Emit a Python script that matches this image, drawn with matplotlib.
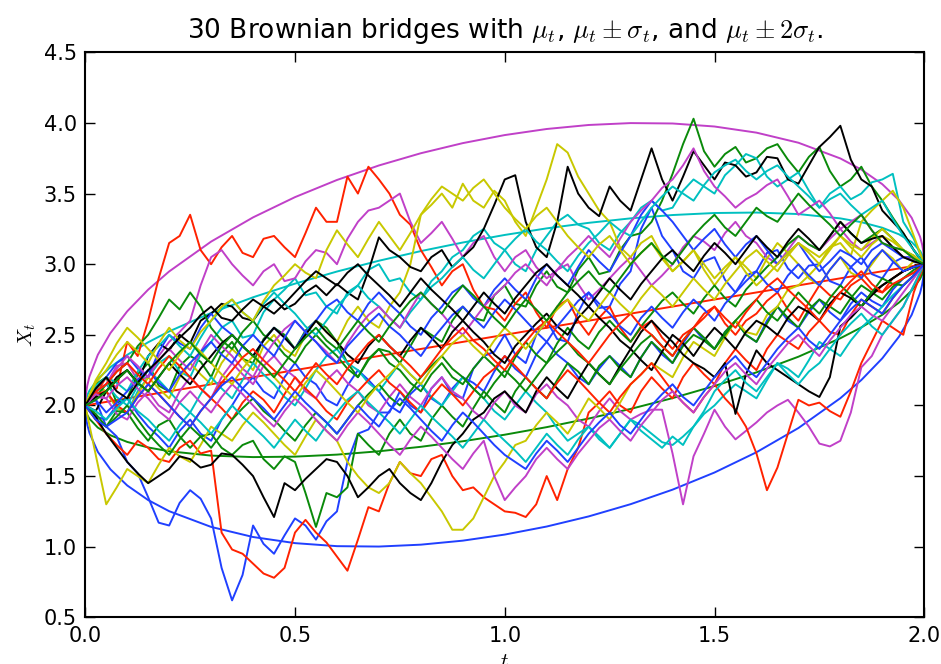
import numpy as np
import matplotlib
matplotlib.use("Agg")
import matplotlib.pyplot as plt

plt.rcParams['mathtext.fontset'] = 'cm'
plt.rcParams['font.family'] = ['DejaVu Sans']

# 30 Brownian bridge paths from X_0 = 2 to X_2 = 3, sampled every 0.025 in t
paths = [
    [2.0, 2.04, 1.85, 1.78, 1.6, 1.52, 1.35, 1.17, 1.15, 1.31, 1.4, 1.34, 1.2, 0.85, 0.62, 0.8, 1.15, 1.02, 0.95, 1.08,
     1.2, 1.15, 1.05, 1.18, 1.25, 1.6, 1.8, 1.83, 1.95, 1.95, 2.1, 2.0, 1.95, 2.12, 2.2, 2.08, 2.05, 2.26, 2.35, 2.38,
     2.5, 2.36, 2.3, 2.5, 2.6, 2.47, 2.45, 2.66, 2.8, 2.69, 2.7, 2.86, 2.95, 3.25, 3.4, 3.2, 3.1, 2.95, 2.9, 3.02,
     3.05, 2.89, 2.8, 2.92, 2.95, 3.08, 3.1, 2.97, 2.9, 2.99, 3.0, 2.88, 2.85, 2.98, 3.05, 2.93, 2.9, 3.01, 3.05, 3.05, 3.0],
    [2.0, 2.15, 2.2, 2.02, 2.05, 2.22, 2.3, 2.14, 2.1, 2.28, 2.35, 2.31, 2.2, 2.37, 2.45, 2.33, 2.3, 2.47, 2.55, 2.5,
     2.4, 2.53, 2.6, 2.55, 2.45, 2.3, 2.2, 2.33, 2.4, 2.38, 2.3, 2.42, 2.55, 2.5, 2.45, 2.6, 2.7, 2.62, 2.6, 2.78,
     2.85, 2.72, 2.7, 2.85, 2.95, 2.84, 2.8, 2.96, 3.05, 2.93, 2.95, 3.1, 3.2, 3.22, 3.3, 3.45, 3.64, 3.85, 4.03, 3.8,
     3.69, 3.78, 3.83, 3.72, 3.75, 3.82, 3.85, 3.74, 3.65, 3.76, 3.83, 3.66, 3.55, 3.6, 3.69, 3.55, 3.45, 3.33, 3.22, 3.1, 3.0],
    [2.0, 2.08, 2.2, 2.12, 2.45, 2.35, 2.6, 2.9, 3.15, 3.2, 3.35, 3.1, 3.0, 3.12, 3.2, 3.08, 3.05, 3.18, 3.2, 3.12,
     3.05, 3.22, 3.4, 3.3, 3.3, 3.62, 3.5, 3.69, 3.6, 3.5, 3.35, 3.28, 3.1, 2.98, 2.85, 2.95, 3.0, 2.82, 2.7, 2.68,
     2.6, 2.72, 2.8, 2.66, 2.55, 2.7, 2.75, 2.6, 2.5, 2.62, 2.7, 2.55, 2.45, 2.55, 2.6, 2.48, 2.4, 2.5, 2.55, 2.65,
     2.7, 2.58, 2.5, 2.6, 2.65, 2.74, 2.8, 2.68, 2.6, 2.73, 2.85, 2.78, 2.75, 2.85, 2.9, 2.82, 2.8, 2.9, 2.95, 2.98, 3.0],
    [2.0, 2.12, 2.1, 1.98, 1.95, 2.1, 2.2, 2.3, 2.35, 2.24, 2.2, 2.36, 2.45, 2.55, 2.6, 2.48, 2.5, 2.66, 2.75, 2.82,
     2.9, 2.78, 2.8, 2.7, 2.65, 2.8, 2.85, 2.96, 3.0, 2.88, 2.9, 2.8, 2.75, 2.88, 2.95, 3.05, 3.1, 3.2, 3.25, 3.15,
     3.1, 3.0, 2.95, 3.1, 3.2, 3.3, 3.35, 3.28, 3.25, 3.15, 3.1, 3.22, 3.3, 3.4, 3.45, 3.38, 3.4, 3.52, 3.6, 3.55,
     3.5, 3.63, 3.7, 3.78, 3.75, 3.62, 3.55, 3.6, 3.65, 3.52, 3.4, 3.5, 3.55, 3.46, 3.5, 3.58, 3.6, 3.64, 3.3, 3.18, 3.0],
    [2.0, 2.1, 2.15, 2.28, 2.3, 2.18, 2.2, 2.35, 2.45, 2.52, 2.6, 2.85, 3.05, 3.1, 3.0, 2.92, 2.85, 2.95, 3.0, 2.88,
     2.9, 3.02, 3.1, 3.08, 3.0, 3.18, 3.3, 3.38, 3.4, 3.45, 3.5, 3.3, 3.15, 3.22, 3.3, 3.18, 3.05, 3.15, 3.2, 3.05,
     2.95, 3.05, 3.1, 2.98, 2.9, 2.96, 3.0, 2.86, 2.75, 2.82, 2.9, 2.98, 3.05, 2.95, 2.85, 2.92, 3.0, 3.12, 3.2, 3.16,
     3.1, 3.22, 3.3, 3.2, 3.15, 3.05, 3.0, 3.1, 3.2, 3.14, 3.1, 3.18, 3.25, 3.16, 3.1, 3.15, 3.2, 3.12, 3.05, 3.03, 3.0],
    [2.0, 2.14, 2.1, 1.98, 1.95, 2.08, 2.2, 2.12, 2.05, 2.2, 2.3, 2.22, 2.15, 2.3, 2.4, 2.33, 2.25, 2.42, 2.5, 2.4,
     2.35, 2.5, 2.6, 2.52, 2.45, 2.6, 2.7, 2.6, 2.55, 2.7, 2.8, 3.0, 3.35, 3.42, 3.5, 3.4, 3.57, 3.45, 3.4, 3.52,
     3.45, 3.3, 3.2, 3.4, 3.6, 3.85, 3.79, 3.62, 3.5, 3.38, 3.3, 3.12, 3.05, 3.15, 3.2, 3.06, 2.95, 3.02, 3.1, 2.96,
     2.85, 2.95, 3.05, 2.98, 2.9, 3.04, 3.15, 3.08, 3.0, 2.9, 2.85, 2.96, 3.05, 2.94, 2.9, 3.0, 3.1, 3.04, 2.95, 3.02, 3.0],
    [2.0, 1.96, 2.1, 2.2, 2.25, 2.16, 2.35, 2.44, 2.39, 2.5, 2.44, 2.6, 2.65, 2.72, 2.7, 2.62, 2.6, 2.7, 2.75, 2.68,
     2.72, 2.8, 2.85, 2.78, 2.86, 2.8, 2.75, 2.95, 3.19, 3.1, 3.05, 2.98, 2.95, 3.05, 3.1, 2.98, 3.05, 3.12, 3.25, 3.42,
     3.6, 3.63, 3.3, 3.12, 3.05, 3.3, 3.69, 3.5, 3.4, 3.34, 3.55, 3.45, 3.38, 3.6, 3.82, 3.6, 3.45, 3.62, 3.8, 3.7,
     3.6, 3.72, 3.7, 3.62, 3.65, 3.76, 3.75, 3.6, 3.57, 3.7, 3.83, 3.9, 3.98, 3.74, 3.6, 3.55, 3.38, 3.3, 3.22, 3.1, 3.0],
    [2.0, 1.92, 1.9, 2.0, 2.05, 1.94, 1.85, 1.78, 1.7, 1.82, 1.9, 1.8, 1.75, 1.9, 2.0, 2.12, 2.2, 2.1, 2.05, 2.2,
     2.3, 2.2, 2.15, 2.04, 2.0, 2.14, 2.25, 2.18, 2.1, 2.0, 1.95, 2.08, 2.15, 2.05, 2.0, 2.12, 2.2, 2.16, 2.1, 2.24,
     2.35, 2.26, 2.2, 2.36, 2.45, 2.36, 2.3, 2.2, 2.15, 2.26, 2.35, 2.28, 2.2, 2.34, 2.45, 2.36, 2.3, 2.44, 2.55, 2.46,
     2.4, 2.52, 2.6, 2.5, 2.45, 2.6, 2.7, 2.6, 2.55, 2.66, 2.75, 2.66, 2.6, 2.72, 2.8, 2.74, 2.7, 2.82, 2.9, 2.94, 3.0],
    [2.0, 1.9, 1.85, 1.96, 1.95, 1.84, 1.75, 1.86, 1.9, 1.78, 1.7, 1.78, 1.8, 1.7, 1.65, 1.72, 1.75, 1.62, 1.55, 1.64,
     1.6, 1.38, 1.14, 1.38, 1.35, 1.42, 1.8, 1.72, 1.65, 1.8, 1.9, 1.8, 1.75, 1.9, 2.0, 1.92, 1.85, 1.98, 2.1, 2.02,
     1.95, 2.1, 2.2, 2.12, 2.05, 2.18, 2.3, 2.24, 2.15, 2.28, 2.35, 2.26, 2.2, 2.34, 2.45, 2.38, 2.3, 2.42, 2.5, 2.46,
     2.4, 2.52, 2.6, 2.5, 2.45, 2.58, 2.7, 2.62, 2.55, 2.68, 2.75, 2.7, 2.65, 2.76, 2.85, 2.8, 2.75, 2.84, 2.9, 2.96, 3.0],
    [2.0, 1.9, 1.8, 1.72, 1.65, 1.75, 1.7, 1.62, 1.6, 1.7, 1.75, 1.66, 1.68, 1.1, 0.98, 0.95, 0.88, 0.81, 0.78, 0.85,
     1.1, 1.19, 1.1, 1.03, 0.93, 0.83, 1.05, 1.28, 1.25, 1.45, 1.6, 1.52, 1.5, 1.62, 1.65, 1.5, 1.4, 1.42, 1.35, 1.3,
     1.25, 1.24, 1.21, 1.3, 1.5, 1.33, 1.55, 1.7, 1.95, 2.02, 2.1, 2.0, 1.95, 2.1, 2.2, 2.12, 2.05, 2.2, 2.3, 2.22,
     2.15, 2.3, 2.4, 2.32, 2.25, 2.4, 2.5, 2.45, 2.4, 2.52, 2.6, 2.52, 2.5, 2.64, 2.75, 2.7, 2.65, 2.76, 2.85, 2.92, 3.0],
    [2.0, 2.1, 2.15, 2.06, 2.0, 2.14, 2.25, 2.18, 2.1, 2.02, 1.95, 2.08, 2.2, 2.12, 2.05, 2.18, 2.3, 2.22, 2.15, 2.06,
     2.0, 2.12, 2.25, 2.35, 2.4, 2.3, 2.25, 2.16, 2.1, 2.2, 2.3, 2.22, 2.15, 2.06, 2.0, 2.1, 2.2, 2.12, 2.05, 1.96,
     1.9, 2.0, 2.1, 2.02, 1.95, 1.84, 1.75, 1.8, 1.85, 1.76, 1.7, 1.8, 1.9, 1.86, 1.8, 1.74, 1.72, 1.78, 1.85, 1.94,
     2.0, 2.08, 2.15, 2.1, 2.05, 2.18, 2.3, 2.26, 2.2, 2.32, 2.45, 2.4, 2.35, 2.46, 2.55, 2.62, 2.7, 2.78, 2.85, 2.92, 3.0],
    [2.0, 2.06, 2.05, 1.94, 1.9, 2.02, 2.1, 2.0, 1.95, 2.1, 2.2, 2.12, 2.05, 2.2, 2.3, 2.22, 2.15, 2.28, 2.35, 2.26,
     2.2, 2.1, 2.05, 2.18, 2.25, 2.16, 2.1, 2.0, 1.95, 2.06, 2.15, 2.06, 2.0, 2.12, 2.2, 2.1, 2.05, 1.96, 1.9, 2.02,
     2.1, 2.0, 1.95, 2.08, 2.15, 2.06, 2.0, 1.9, 1.85, 1.96, 2.05, 1.96, 1.9, 1.94, 1.97, 1.97, 1.66, 1.3, 1.64, 1.8,
     1.97, 1.85, 1.76, 1.82, 1.88, 1.95, 2.0, 2.04, 1.95, 1.85, 1.73, 1.71, 1.75, 1.95, 2.27, 2.35, 2.5, 2.6, 2.7, 2.85, 3.0],
    [2.0, 1.65, 1.3, 1.42, 1.55, 1.5, 1.45, 1.58, 1.7, 1.64, 1.6, 1.72, 1.85, 1.8, 1.75, 1.86, 1.95, 1.88, 1.8, 1.72,
     1.65, 1.78, 1.9, 1.82, 1.75, 1.6, 1.5, 1.42, 1.38, 1.45, 1.6, 1.52, 1.45, 1.35, 1.25, 1.12, 1.12, 1.2, 1.35, 1.5,
     1.6, 1.72, 1.75, 1.86, 1.95, 1.88, 1.8, 1.92, 2.05, 1.98, 1.9, 2.02, 2.15, 2.22, 2.3, 2.25, 2.2, 2.34, 2.45, 2.4,
     2.35, 2.48, 2.6, 2.52, 2.5, 2.64, 2.7, 2.82, 2.85, 2.92, 3.0, 3.12, 3.15, 3.06, 3.3, 3.38, 3.45, 3.52, 3.4, 3.2, 3.0],
    [2.0, 1.92, 1.8, 1.7, 1.6, 1.52, 1.45, 1.5, 1.55, 1.64, 1.62, 1.56, 1.58, 1.66, 1.65, 1.58, 1.5, 1.35, 1.21, 1.45,
     1.4, 1.48, 1.55, 1.62, 1.6, 1.5, 1.35, 1.42, 1.5, 1.55, 1.45, 1.38, 1.33, 1.45, 1.6, 1.72, 1.8, 1.9, 1.95, 2.05,
     2.1, 2.02, 1.95, 2.1, 2.2, 2.12, 2.05, 2.18, 2.3, 2.22, 2.15, 2.28, 2.4, 2.32, 2.25, 2.38, 2.5, 2.44, 2.35, 2.46,
     2.55, 2.48, 2.4, 2.52, 2.6, 2.56, 2.5, 2.62, 2.7, 2.66, 2.6, 2.72, 2.8, 2.76, 2.7, 2.78, 2.85, 2.9, 2.95, 2.98, 3.0],
    [2.0, 2.12, 2.2, 2.3, 2.35, 2.26, 2.2, 2.38, 2.5, 2.44, 2.4, 2.55, 2.65, 2.56, 2.5, 2.42, 2.35, 2.46, 2.55, 2.48,
     2.4, 2.52, 2.6, 2.7, 2.75, 2.66, 2.6, 2.72, 2.8, 2.72, 2.65, 2.56, 2.5, 2.62, 2.7, 2.8, 2.85, 2.76, 2.7, 2.82,
     2.9, 2.82, 2.75, 2.9, 3.0, 2.92, 2.85, 2.98, 3.1, 3.02, 2.95, 3.08, 3.2, 3.35, 3.45, 3.38, 3.3, 3.2, 3.1, 3.18,
     3.25, 3.14, 3.05, 3.14, 3.2, 3.1, 3.0, 3.08, 3.15, 3.04, 2.95, 3.02, 3.1, 3.06, 3.0, 3.1, 3.15, 3.1, 3.05, 3.02, 3.0],
    [2.0, 2.06, 2.15, 2.24, 2.3, 2.42, 2.5, 2.62, 2.75, 2.68, 2.8, 2.7, 2.55, 2.46, 2.4, 2.52, 2.6, 2.5, 2.45, 2.36,
     2.3, 2.42, 2.5, 2.42, 2.35, 2.26, 2.2, 2.32, 2.4, 2.3, 2.25, 2.16, 2.1, 2.22, 2.3, 2.2, 2.15, 2.26, 2.35, 2.28,
     2.2, 2.34, 2.45, 2.36, 2.3, 2.44, 2.55, 2.46, 2.4, 2.52, 2.6, 2.52, 2.45, 2.56, 2.65, 2.74, 2.8, 2.72, 2.65, 2.76,
     2.85, 2.76, 2.7, 2.82, 2.9, 2.98, 3.05, 3.14, 3.2, 3.14, 3.1, 3.2, 3.3, 3.22, 3.15, 3.2, 3.25, 3.18, 3.1, 3.06, 3.0],
    [2.0, 2.08, 2.1, 2.0, 1.95, 2.06, 2.15, 2.08, 2.0, 1.92, 1.85, 1.96, 2.05, 1.98, 1.9, 2.02, 2.1, 2.04, 1.95, 2.08,
     2.2, 2.12, 2.05, 1.96, 1.9, 2.02, 2.1, 2.18, 2.25, 2.16, 2.1, 2.02, 1.95, 2.06, 2.15, 2.08, 2.0, 2.1, 2.2, 2.26,
     2.35, 2.28, 2.2, 2.12, 2.05, 2.16, 2.25, 2.18, 2.1, 2.02, 1.95, 2.06, 2.15, 2.22, 2.3, 2.2, 2.1, 2.02, 1.95, 2.06,
     2.15, 2.05, 1.97, 1.85, 1.66, 1.4, 1.56, 1.8, 2.04, 2.0, 2.02, 1.96, 1.92, 2.1, 2.3, 2.45, 2.6, 2.55, 2.5, 2.8, 3.0],
    [2.0, 2.14, 2.2, 2.16, 2.1, 2.24, 2.35, 2.42, 2.5, 2.42, 2.35, 2.48, 2.6, 2.68, 2.75, 2.66, 2.6, 2.72, 2.8, 2.72,
     2.65, 2.56, 2.5, 2.6, 2.7, 2.78, 2.85, 2.76, 2.7, 2.62, 2.55, 2.66, 2.75, 2.84, 2.9, 2.98, 3.05, 2.96, 2.9, 3.0,
     3.1, 3.18, 3.25, 3.16, 3.1, 3.02, 2.95, 3.06, 3.15, 3.22, 3.3, 3.24, 3.2, 3.3, 3.4, 3.48, 3.55, 3.5, 3.45, 3.56,
     3.65, 3.7, 3.74, 3.66, 3.6, 3.66, 3.7, 3.62, 3.55, 3.48, 3.4, 3.46, 3.5, 3.42, 3.35, 3.4, 3.45, 3.32, 3.2, 3.1, 3.0],
    [2.0, 2.1, 2.15, 2.26, 2.35, 2.28, 2.2, 2.32, 2.4, 2.32, 2.25, 2.38, 2.5, 2.42, 2.35, 2.26, 2.2, 2.34, 2.45, 2.54,
     2.6, 2.52, 2.45, 2.38, 2.3, 2.44, 2.55, 2.64, 2.7, 2.62, 2.55, 2.68, 2.8, 2.72, 2.65, 2.56, 2.5, 2.6, 2.7, 2.78,
     2.85, 2.94, 3.0, 2.92, 2.85, 2.96, 3.05, 3.12, 3.2, 3.12, 3.05, 3.18, 3.3, 3.38, 3.45, 3.54, 3.6, 3.7, 3.82, 3.66,
     3.55, 3.48, 3.4, 3.46, 3.5, 3.56, 3.6, 3.48, 3.35, 3.4, 3.45, 3.36, 3.25, 3.3, 3.35, 3.24, 3.15, 3.12, 3.1, 3.05, 3.0],
    [2.0, 2.16, 2.25, 2.36, 2.45, 2.38, 2.3, 2.44, 2.55, 2.46, 2.4, 2.52, 2.6, 2.7, 2.75, 2.66, 2.6, 2.74, 2.85, 2.92,
     3.0, 2.94, 2.9, 3.1, 3.24, 3.14, 3.05, 3.18, 3.3, 3.2, 3.1, 3.22, 3.35, 3.46, 3.55, 3.5, 3.45, 3.54, 3.6, 3.5,
     3.4, 3.32, 3.25, 3.34, 3.4, 3.3, 3.2, 3.12, 3.05, 3.14, 3.2, 3.1, 3.0, 3.08, 3.15, 3.04, 2.95, 3.02, 3.1, 3.0,
     2.9, 2.98, 3.05, 2.94, 2.85, 2.92, 3.0, 3.08, 3.15, 3.1, 3.05, 3.12, 3.2, 3.14, 3.1, 3.18, 3.25, 3.18, 3.1, 3.04, 3.0],
    [2.0, 2.06, 2.1, 2.18, 2.25, 2.16, 2.1, 2.2, 2.3, 2.22, 2.15, 2.26, 2.35, 2.44, 2.5, 2.42, 2.35, 2.46, 2.55, 2.48,
     2.4, 2.5, 2.6, 2.52, 2.45, 2.36, 2.3, 2.42, 2.5, 2.42, 2.35, 2.46, 2.55, 2.48, 2.4, 2.52, 2.6, 2.52, 2.45, 2.36,
     2.3, 2.42, 2.5, 2.58, 2.65, 2.56, 2.5, 2.62, 2.7, 2.62, 2.55, 2.46, 2.4, 2.52, 2.6, 2.52, 2.45, 2.36, 2.3, 2.26,
     2.2, 2.3, 1.94, 2.22, 2.39, 2.3, 2.25, 2.2, 2.15, 2.1, 2.06, 2.2, 2.56, 2.62, 2.7, 2.8, 2.85, 2.9, 2.95, 2.98, 3.0],
    [2.0, 2.04, 1.95, 2.02, 2.1, 2.18, 2.25, 2.16, 2.1, 2.22, 2.3, 2.38, 2.45, 2.36, 2.3, 2.42, 2.5, 2.42, 2.35, 2.48,
     2.6, 2.52, 2.45, 2.36, 2.3, 2.42, 2.5, 2.58, 2.65, 2.56, 2.5, 2.42, 2.35, 2.46, 2.55, 2.64, 2.7, 2.62, 2.55, 2.66,
     2.75, 2.68, 2.6, 2.52, 2.45, 2.56, 2.65, 2.74, 2.8, 2.72, 2.65, 2.56, 2.5, 2.62, 2.7, 2.62, 2.55, 2.66, 2.75, 2.68,
     2.6, 2.72, 2.8, 2.88, 2.95, 2.86, 2.8, 2.92, 3.0, 2.92, 2.85, 2.96, 3.05, 2.98, 2.9, 3.02, 3.1, 3.02, 2.95, 2.98, 3.0],
    [2.0, 1.94, 1.85, 1.92, 2.0, 1.9, 1.8, 1.72, 1.65, 1.76, 1.85, 1.78, 1.7, 1.8, 1.9, 1.98, 2.05, 1.96, 1.9, 1.82,
     1.75, 1.86, 1.95, 1.88, 1.8, 1.9, 2.0, 2.08, 2.15, 2.06, 2.0, 2.1, 2.2, 2.28, 2.35, 2.26, 2.2, 2.12, 2.05, 2.16,
     2.25, 2.18, 2.1, 2.2, 2.3, 2.38, 2.45, 2.36, 2.3, 2.22, 2.15, 2.26, 2.35, 2.44, 2.5, 2.42, 2.35, 2.46, 2.55, 2.48,
     2.4, 2.5, 2.6, 2.68, 2.75, 2.66, 2.6, 2.7, 2.8, 2.72, 2.65, 2.76, 2.85, 2.78, 2.7, 2.8, 2.9, 2.86, 2.85, 2.92, 3.0],
    [2.0, 2.1, 2.15, 2.24, 2.3, 2.22, 2.15, 2.26, 2.35, 2.28, 2.2, 2.12, 2.05, 2.16, 2.25, 2.34, 2.4, 2.32, 2.25, 2.18,
     2.1, 2.2, 2.3, 2.22, 2.15, 2.26, 2.35, 2.44, 2.5, 2.42, 2.35, 2.28, 2.2, 2.3, 2.4, 2.48, 2.55, 2.46, 2.4, 2.32,
     2.25, 2.36, 2.45, 2.54, 2.6, 2.52, 2.45, 2.38, 2.3, 2.4, 2.5, 2.58, 2.65, 2.56, 2.5, 2.42, 2.35, 2.46, 2.55, 2.62,
     2.7, 2.62, 2.55, 2.66, 2.75, 2.84, 2.9, 2.82, 2.75, 2.68, 2.6, 2.7, 2.8, 2.88, 2.95, 2.86, 2.8, 2.86, 2.9, 2.94, 3.0],
    [2.0, 1.96, 1.9, 1.98, 2.05, 1.96, 1.9, 1.82, 1.75, 1.86, 1.95, 1.88, 1.8, 1.9, 2.0, 1.92, 1.85, 1.78, 1.7, 1.8,
     1.9, 1.82, 1.75, 1.86, 1.95, 2.04, 2.1, 2.02, 1.95, 1.88, 1.8, 1.9, 2.0, 1.92, 1.85, 1.78, 1.7, 1.8, 1.9, 1.82,
     1.75, 1.68, 1.6, 1.7, 1.8, 1.72, 1.65, 1.76, 1.85, 1.78, 1.7, 1.8, 1.9, 1.82, 1.76, 1.7, 1.78, 1.72, 1.85, 1.96,
     2.1, 2.18, 2.25, 2.16, 2.1, 2.2, 2.3, 2.22, 2.15, 2.24, 2.3, 2.4, 2.5, 2.58, 2.65, 2.56, 2.5, 2.6, 2.7, 2.85, 3.0],
    [2.0, 2.08, 2.05, 2.14, 2.2, 2.12, 2.05, 1.96, 1.9, 2.02, 2.1, 2.02, 1.95, 2.06, 2.15, 2.08, 2.0, 1.92, 1.85, 1.96,
     2.05, 1.98, 1.9, 1.82, 1.75, 1.86, 1.95, 1.88, 1.8, 1.72, 1.65, 1.76, 1.85, 1.78, 1.7, 1.62, 1.55, 1.66, 1.75, 1.5,
     1.33, 1.42, 1.5, 1.62, 1.7, 1.62, 1.55, 1.66, 1.75, 1.84, 1.9, 1.82, 1.75, 1.86, 1.95, 2.04, 2.1, 2.02, 1.95, 2.06,
     2.15, 2.24, 2.3, 2.22, 2.15, 2.26, 2.35, 2.44, 2.5, 2.42, 2.35, 2.46, 2.55, 2.64, 2.7, 2.64, 2.6, 2.7, 2.8, 2.9, 3.0],
    [2.0, 2.18, 2.3, 2.44, 2.55, 2.48, 2.4, 2.32, 2.25, 2.36, 2.45, 2.38, 2.3, 2.22, 2.15, 2.26, 2.35, 2.28, 2.2, 2.12,
     2.05, 2.16, 2.25, 2.18, 2.1, 2.02, 1.95, 2.06, 2.15, 2.22, 2.3, 2.22, 2.15, 2.26, 2.35, 2.44, 2.5, 2.42, 2.35, 2.46,
     2.55, 2.48, 2.4, 2.5, 2.6, 2.68, 2.75, 2.66, 2.6, 2.7, 2.8, 2.72, 2.65, 2.76, 2.85, 2.78, 2.7, 2.8, 2.9, 2.82,
     2.75, 2.86, 2.95, 3.04, 3.1, 3.02, 2.95, 3.06, 3.15, 3.08, 3.0, 3.1, 3.2, 3.12, 3.05, 3.14, 3.2, 3.16, 3.1, 3.06, 3.0],
    [2.0, 2.12, 2.2, 2.1, 2.05, 2.16, 2.25, 2.32, 2.4, 2.48, 2.55, 2.64, 2.7, 2.62, 2.6, 2.68, 2.75, 2.7, 2.65, 2.72,
     2.8, 2.88, 2.95, 2.9, 2.85, 2.94, 3.0, 2.92, 2.85, 2.78, 2.7, 2.8, 2.9, 2.82, 2.75, 2.68, 2.6, 2.7, 2.8, 2.72,
     2.65, 2.76, 2.85, 2.94, 3.0, 2.92, 2.85, 2.78, 2.7, 2.8, 2.9, 2.82, 2.75, 2.86, 2.95, 3.04, 3.1, 3.02, 2.95, 3.06,
     3.15, 3.08, 3.0, 3.1, 3.2, 3.12, 3.05, 3.16, 3.25, 3.18, 3.1, 3.2, 3.3, 3.22, 3.15, 3.18, 3.2, 3.12, 3.05, 3.02, 3.0],
    [2.0, 1.9, 1.85, 1.9, 1.95, 2.06, 2.15, 2.08, 2.0, 1.92, 1.85, 1.96, 2.05, 2.14, 2.2, 2.12, 2.05, 1.98, 1.9, 2.0,
     2.1, 2.02, 1.95, 1.88, 1.8, 1.9, 2.0, 1.92, 1.85, 1.96, 2.05, 1.98, 1.9, 1.82, 1.75, 1.86, 1.95, 1.88, 1.8, 1.72,
     1.65, 1.6, 1.55, 1.66, 1.75, 1.68, 1.6, 1.7, 1.8, 1.88, 1.95, 1.86, 1.8, 1.9, 2.0, 2.08, 2.15, 2.06, 2.0, 2.1,
     2.2, 2.28, 2.35, 2.26, 2.2, 2.3, 2.4, 2.48, 2.55, 2.46, 2.4, 2.5, 2.6, 2.68, 2.75, 2.7, 2.65, 2.76, 2.85, 2.92, 3.0],
    [2.0, 2.04, 2.1, 2.18, 2.25, 2.16, 2.1, 2.2, 2.3, 2.38, 2.45, 2.36, 2.3, 2.42, 2.5, 2.42, 2.35, 2.28, 2.2, 2.3,
     2.4, 2.48, 2.55, 2.46, 2.4, 2.5, 2.6, 2.52, 2.45, 2.56, 2.65, 2.74, 2.8, 2.72, 2.65, 2.76, 2.85, 2.78, 2.7, 2.62,
     2.55, 2.66, 2.75, 2.68, 2.6, 2.7, 2.8, 2.88, 2.95, 2.86, 2.8, 2.9, 3.0, 3.08, 3.15, 3.06, 3.0, 3.1, 3.2, 3.28,
     3.35, 3.26, 3.2, 3.3, 3.4, 3.34, 3.3, 3.4, 3.5, 3.42, 3.35, 3.28, 3.2, 3.28, 3.35, 3.24, 3.15, 3.12, 3.1, 3.04, 3.0],
]

# mean line endpoints and the standard deviation of the bridge
mean_t = [0.0, 2.0]
mean_x = [2.0, 3.0]
sigma_t = [0.0, 0.002, 0.005, 0.01, 0.03, 0.06, 0.1, 0.15, 0.2, 0.3, 0.4, 0.5, 0.6, 0.7, 0.8, 0.9, 1.0,
           1.1, 1.2, 1.3, 1.4, 1.5, 1.6, 1.7, 1.8, 1.85, 1.9, 1.94, 1.97, 1.99, 1.995, 1.998, 2.0]
sigma = [0.0, 0.0447, 0.0706, 0.0997, 0.1719, 0.2412, 0.3082, 0.3725, 0.4243, 0.5050, 0.5657, 0.6124,
         0.6481, 0.6745, 0.6928, 0.7036, 0.7071, 0.7036, 0.6928, 0.6745, 0.6481, 0.6124, 0.5657, 0.5050,
         0.4243, 0.3725, 0.3082, 0.2412, 0.1719, 0.0997, 0.0706, 0.0447, 0.0]

path_colors = ['#2040ff', '#0a8a0a', '#ff2200', '#00c0c0', '#c040c8', '#c8c800', '#000000']
curve_colors = {-2: '#2040ff', -1: '#0a8a0a', 0: '#ff2200', 1: '#00c0c0', 2: '#c040c8'}

fig = plt.figure(figsize=(9.41, 6.64), dpi=100)
ax = fig.add_axes([0.0906, 0.0703, 0.8916, 0.8509])

sig = np.array(sigma)
mu = np.interp(sigma_t, mean_t, mean_x)
for k in (0, 1, 2, -2, -1):
    ax.plot(sigma_t, mu + k * sig, color=curve_colors[k], lw=1.4)

for i, p in enumerate(paths):
    t = np.linspace(0.0, 2.0, len(p))
    ax.plot(t, p, color=path_colors[i % 7], lw=1.4)

ax.set_xlim(0, 2)
ax.set_ylim(0.5, 4.5)
ax.set_xticks([0.0, 0.5, 1.0, 1.5, 2.0])
ax.set_yticks([0.5, 1.0, 1.5, 2.0, 2.5, 3.0, 3.5, 4.0, 4.5])
ax.tick_params(direction='in', top=True, right=True, length=7, width=1, labelsize=15, pad=6)
for s in ax.spines.values():
    s.set_linewidth(1.5)

ax.set_title(r'30 Brownian bridges with $\mu_t$, $\mu_t \pm\sigma_t$, and $\mu_t \pm2\sigma_t$.',
             fontsize=19, pad=10)
ax.set_xlabel(r'$t$', fontsize=15)
ax.set_ylabel(r'$X_t$', fontsize=15, labelpad=4)

fig.savefig('out.png', dpi=100)
